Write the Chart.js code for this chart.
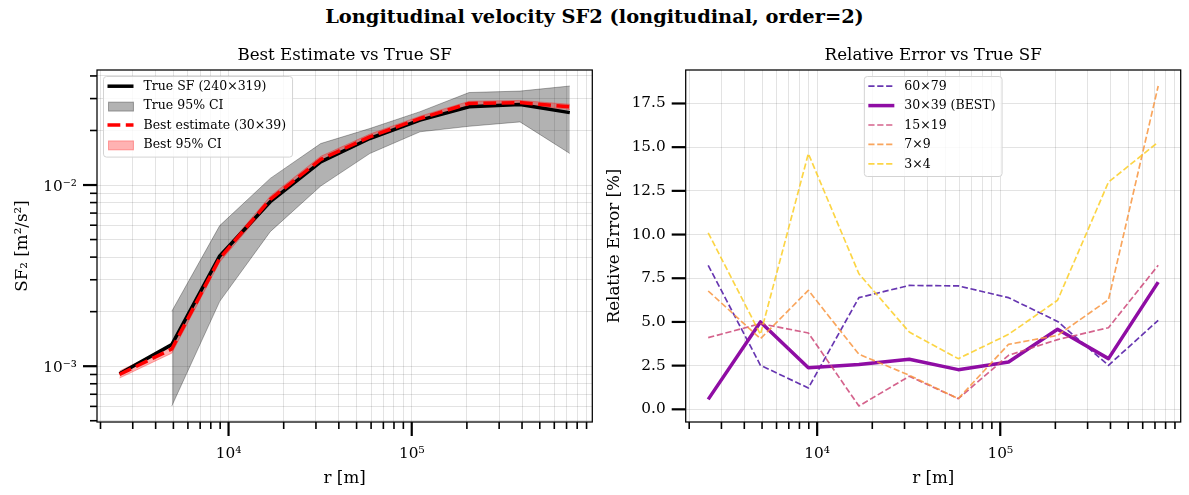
<!DOCTYPE html>
<html>
<head>
<meta charset="utf-8">
<script src="https://cdn.jsdelivr.net/npm/chart.js@4.4.1/dist/chart.umd.min.js"></script>
<style>
  body { margin:0; background:#fff; width:1189px; height:495px; overflow:hidden; position:relative; font-family:'DejaVu Serif', serif; }
  #suptitle { position:absolute; left:0; top:6px; width:1189px; text-align:center; font-weight:bold; font-size:19.4px; line-height:22px; color:#000; }
  #sfChart { position:absolute; left:0; top:0; }
  #errChart { position:absolute; left:600px; top:0; }
</style>
</head>
<body>
<div id="suptitle">Longitudinal velocity SF2 (longitudinal, order=2)</div>
<canvas id="sfChart" width="600" height="495"></canvas>
<canvas id="errChart" width="589" height="495"></canvas>
<script>
'use strict';

// separation distance r [m]
let rVals = [2540, 4900, 8950, 16900, 31850, 59000, 111000, 205600, 390000, 729000];

// left panel: SF2 [m^2/s^2]
let trueSF = [9.08e-4, 1.315e-3, 4.06e-3, 8.09e-3, 0.01343, 0.01806, 0.0228, 0.0270, 0.0278, 0.0251];
let trueLo = [null, 6.03e-4, 2.28e-3, 5.53e-3, 9.87e-3, 0.01492, 0.01967, 0.0211, 0.0223, 0.01493];
let trueHi = [null, 2.01e-3, 5.97e-3, 0.01088, 0.01694, 0.0205, 0.0254, 0.0324, 0.0330, 0.0352];
let bestSF = [9.0e-4, 1.245e-3, 3.94e-3, 8.34e-3, 0.01384, 0.01845, 0.0233, 0.0282, 0.0285, 0.0270];
let bestLo = [8.6e-4, 1.18e-3, 3.76e-3, 7.98e-3, 0.01330, 0.01780, 0.0226, 0.0274, 0.0277, 0.0261];
let bestHi = [9.4e-4, 1.30e-3, 4.10e-3, 8.68e-3, 0.01440, 0.01910, 0.0240, 0.0290, 0.0293, 0.0279];

// right panel: relative error [%]
let errNames = ['60×79', '30×39 (BEST)', '15×19', '7×9', '3×4'];
let err60 = [8.24, 2.52, 1.22, 6.39, 7.09, 7.06, 6.39, 5.03, 2.52, 5.09];
let err30 = [0.57, 5.0, 2.38, 2.57, 2.86, 2.27, 2.71, 4.58, 2.9, 7.28];
let err15 = [4.1, 4.9, 4.37, 0.19, 1.89, 0.61, 3.09, 3.99, 4.67, 8.24];
let err7 = [6.77, 4.04, 6.81, 3.15, 1.95, 0.61, 3.72, 4.23, 6.27, 18.5];
let err3 = [10.1, 4.29, 14.63, 7.76, 4.42, 2.9, 4.29, 6.24, 13.0, 15.29];
let errTicks = [0, 2.5, 5, 7.5, 10, 12.5, 15, 17.5];

let errColors = ['rgba(65,4,157,0.8)', '#8f0da4', 'rgba(204,71,120,0.85)', 'rgba(248,149,64,0.85)', 'rgba(252,206,37,0.85)'];

const FONT = "'DejaVu Serif', serif";

function pts(arr) {
    return rVals.map((r, i) => ({x: r, y: arr[i]}));
}

// matplotlib-like 5% margins
function logLimits(vals) {
    let v = vals.filter(a => a != null && a > 0).map(a => Math.log10(a));
    let lo = Math.min(...v), hi = Math.max(...v);
    let m = (hi - lo) * 0.05;
    return [Math.pow(10, lo - m), Math.pow(10, hi + m)];
}
function linLimits(vals) {
    let lo = Math.min(...vals), hi = Math.max(...vals);
    let m = (hi - lo) * 0.05;
    return [lo - m, hi + m];
}

let xLim = logLimits(rVals);
let ySFLim = logLimits([].concat(trueSF, trueLo, trueHi, bestSF, bestLo, bestHi));
let yErrLim = linLimits([].concat(err60, err30, err15, err7, err3));

const SUP = {'-': '⁻', '0': '⁰', '1': '¹', '2': '²', '3': '³', '4': '⁴', '5': '⁵', '6': '⁶', '7': '⁷', '8': '⁸', '9': '⁹'};
function powLabel(v) {
    let e = Math.log10(v);
    if (Math.abs(e - Math.round(e)) > 1e-9) return '';
    return '10' + String(Math.round(e)).split('').map(c => SUP[c]).join('');
}

function logTicks(scale) {
    let out = [];
    let e0 = Math.floor(Math.log10(scale.min));
    let e1 = Math.ceil(Math.log10(scale.max));
    for (let e = e0; e <= e1; e++) {
        for (let m = 1; m < 10; m++) {
            let v = parseFloat((m * Math.pow(10, e)).toPrecision(6));
            if (v >= scale.min && v <= scale.max) out.push({value: v, major: m === 1});
        }
    }
    scale.ticks = out;
}

// spines + outward tick marks (major long, minor short)
const frameTicks = {
    id: 'frameTicks',
    afterDatasetsDraw(chart) {
        const ctx = chart.ctx, a = chart.chartArea;
        const xs = chart.scales.x, ys = chart.scales.y;
        ctx.save();
        ctx.strokeStyle = '#000';
        xs.ticks.forEach(t => {
            let p = xs.getPixelForValue(t.value);
            ctx.lineWidth = t.major ? 2.2 : 1.6;
            ctx.beginPath();
            ctx.moveTo(p, a.bottom);
            ctx.lineTo(p, a.bottom + (t.major ? 14 : 7));
            ctx.stroke();
        });
        ys.ticks.forEach(t => {
            let p = ys.getPixelForValue(t.value);
            ctx.lineWidth = t.major ? 2.2 : 1.6;
            ctx.beginPath();
            ctx.moveTo(a.left, p);
            ctx.lineTo(a.left - (t.major ? 14 : 7), p);
            ctx.stroke();
        });
        ctx.lineWidth = 1.25;
        ctx.strokeRect(a.left, a.top, a.right - a.left, a.bottom - a.top);
        ctx.restore();
    }
};

// legend box inside the axes
const boxLegend = {
    id: 'boxLegend',
    afterDraw(chart, args, opts) {
        if (!opts.items) return;
        const ctx = chart.ctx, a = chart.chartArea;
        ctx.save();
        ctx.font = '12.5px ' + FONT;
        let tw = Math.max(...opts.items.map(it => ctx.measureText(it.text).width));
        let w = 40 + tw + 6.5;
        let h = opts.items.length * 19.4 + 3;
        let x0 = opts.loc === 'upper center' ? (a.left + a.right) / 2 - w / 2 : a.left + 6.5;
        let y0 = a.top + 6.5;
        ctx.beginPath();
        ctx.roundRect(x0, y0, w, h, 3);
        ctx.fillStyle = 'rgba(255,255,255,0.8)';
        ctx.fill();
        ctx.strokeStyle = '#d3d3d3';
        ctx.lineWidth = 1;
        ctx.stroke();
        opts.items.forEach((it, i) => {
            let cy = y0 + 9.7 + i * 19.4;
            if (it.type === 'patch') {
                ctx.fillStyle = it.fill;
                ctx.strokeStyle = it.fill;
                ctx.lineWidth = 1;
                ctx.fillRect(x0 + 5, cy - 3.5, 25, 9);
                ctx.strokeRect(x0 + 5, cy - 3.5, 25, 9);
            } else {
                ctx.strokeStyle = it.color;
                ctx.lineWidth = it.width;
                ctx.setLineDash(it.dash || []);
                ctx.beginPath();
                ctx.moveTo(x0 + 4, cy);
                ctx.lineTo(x0 + 30, cy);
                ctx.stroke();
                ctx.setLineDash([]);
            }
            ctx.fillStyle = '#000';
            ctx.textBaseline = 'middle';
            ctx.textAlign = 'left';
            ctx.fillText(it.text, x0 + 40, cy + 0.5);
        });
        ctx.restore();
    }
};

const gridColor = 'rgba(0,0,0,0.11)';

function xAxis() {
    return {
        type: 'logarithmic',
        min: xLim[0],
        max: xLim[1],
        afterBuildTicks: logTicks,
        afterFit: s => { s.height = 73; s.paddingLeft = 0; s.paddingRight = 0; },
        grid: {color: gridColor, lineWidth: 1, drawTicks: false},
        border: {display: false},
        ticks: {autoSkip: false, maxRotation: 0, minRotation: 0, padding: 23, color: '#000',
            font: {family: FONT, size: 15.3}, callback: v => powLabel(v)},
        title: {display: true, text: 'r [m]', color: '#000', font: {family: FONT, size: 16.7}, padding: {top: 0, bottom: 6.5}}
    };
}

function lineSet(label, arr, color, width, dash, order) {
    return {
        label: label, data: pts(arr), borderColor: color, backgroundColor: color,
        borderWidth: width, borderDash: dash, pointRadius: 0, fill: false,
        borderJoinStyle: 'round', tension: 0, order: order
    };
}

new Chart(document.getElementById('sfChart'), {
    type: 'line',
    data: {
        datasets: [
            lineSet('Best estimate (30×39)', bestSF, '#ff0000', 3.5, [12.8, 5.5], 0),
            lineSet('True SF (240×319)', trueSF, '#000000', 3.5, [], 1),
            Object.assign(lineSet('best hi', bestHi, 'rgba(255,0,0,0.3)', 1, [], 2), {fill: '+1', backgroundColor: 'rgba(255,0,0,0.3)'}),
            lineSet('best lo', bestLo, 'rgba(255,0,0,0.3)', 1, [], 2),
            Object.assign(lineSet('true hi', trueHi, 'rgba(0,0,0,0.3)', 1, [], 3), {fill: '+1', backgroundColor: 'rgba(0,0,0,0.3)'}),
            lineSet('true lo', trueLo, 'rgba(0,0,0,0.3)', 1, [], 3)
        ]
    },
    options: {
        responsive: false,
        animation: false,
        devicePixelRatio: 1,
        layout: {padding: {left: 0, right: 7.7, top: 0, bottom: 0}},
        scales: {
            x: xAxis(),
            y: {
                type: 'logarithmic',
                min: ySFLim[0],
                max: ySFLim[1],
                afterBuildTicks: logTicks,
                afterFit: s => { s.width = 97; s.paddingTop = 0; s.paddingBottom = 0; },
                grid: {color: gridColor, lineWidth: 1, drawTicks: false},
                border: {display: false},
                ticks: {autoSkip: false, padding: 20, labelOffset: 2, color: '#000', font: {family: FONT, size: 15.3}, callback: v => powLabel(v)},
                title: {display: true, text: 'SF₂ [m²/s²]', color: '#000', font: {family: FONT, size: 16.7}, padding: {top: 13, bottom: 0}}
            }
        },
        plugins: {
            legend: {display: false},
            tooltip: {enabled: false},
            title: {display: true, text: 'Best Estimate vs True SF', fullSize: false, color: '#000',
                font: {family: FONT, size: 16.7, weight: 'normal', lineHeight: '20px'}, padding: {top: 46, bottom: 4}},
            boxLegend: {
                loc: 'upper left',
                items: [
                    {text: 'True SF (240×319)', type: 'line', color: '#000', width: 3.5},
                    {text: 'True 95% CI', type: 'patch', fill: 'rgba(0,0,0,0.3)'},
                    {text: 'Best estimate (30×39)', type: 'line', color: '#ff0000', width: 3.5, dash: [12.8, 5.5]},
                    {text: 'Best 95% CI', type: 'patch', fill: 'rgba(255,0,0,0.3)'}
                ]
            }
        }
    },
    plugins: [frameTicks, boxLegend]
});

let errSeries = [err60, err30, err15, err7, err3];
let errSets = errSeries.map((arr, i) => i === 1
    ? lineSet(errNames[i], arr, errColors[i], 3.5, [], 5 - i)
    : lineSet(errNames[i], arr, errColors[i], 1.67, [6.2, 2.7], 5 - i));

new Chart(document.getElementById('errChart'), {
    type: 'line',
    data: {datasets: errSets},
    options: {
        responsive: false,
        animation: false,
        devicePixelRatio: 1,
        layout: {padding: {left: 0, right: 8.3, top: 0, bottom: 0}},
        scales: {
            x: xAxis(),
            y: {
                type: 'linear',
                min: yErrLim[0],
                max: yErrLim[1],
                afterBuildTicks: s => { s.ticks = errTicks.map(v => ({value: v, major: true})); },
                afterFit: s => { s.width = 85.7; s.paddingTop = 0; s.paddingBottom = 0; },
                grid: {color: gridColor, lineWidth: 1, drawTicks: false},
                border: {display: false},
                ticks: {autoSkip: false, padding: 20, color: '#000', font: {family: FONT, size: 15.3}, callback: v => v.toFixed(1)},
                title: {display: true, text: 'Relative Error [%]', color: '#000', font: {family: FONT, size: 16.7}, padding: {top: 5, bottom: 0}}
            }
        },
        plugins: {
            legend: {display: false},
            tooltip: {enabled: false},
            title: {display: true, text: 'Relative Error vs True SF', fullSize: false, color: '#000',
                font: {family: FONT, size: 16.7, weight: 'normal', lineHeight: '20px'}, padding: {top: 46, bottom: 4}},
            boxLegend: {
                loc: 'upper center',
                items: errNames.map((n, i) => i === 1
                    ? {text: n, type: 'line', color: errColors[i], width: 3.5}
                    : {text: n, type: 'line', color: errColors[i], width: 1.67, dash: [6.2, 2.7]})
            }
        }
    },
    plugins: [frameTicks, boxLegend]
});
</script>
</body>
</html>
